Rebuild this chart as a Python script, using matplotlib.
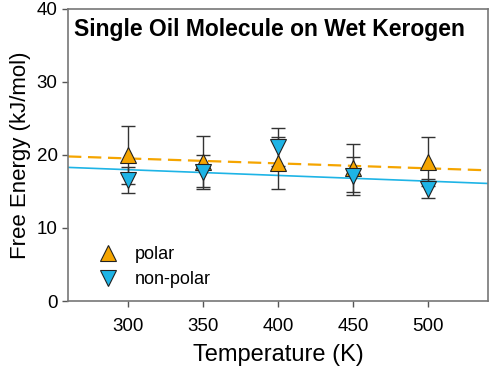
import matplotlib
matplotlib.use('Agg')
import matplotlib.pyplot as plt
from matplotlib.lines import Line2D

plt.rcParams['font.family'] = ['Liberation Sans', 'DejaVu Sans']

# --- Data ---
temps        = [300, 350, 400, 450, 500]
polar        = [20.0, 19.1, 18.9, 18.2, 19.1]
polar_err    = [4.0, 3.5, 3.6, 3.3, 3.4]
nonpolar     = [16.6, 17.7, 21.1, 17.1, 15.4]
nonpolar_err = [1.8, 2.3, 2.6, 2.6, 1.3]

fit_x        = [260, 540]
polar_fit    = [19.8, 17.9]
nonpolar_fit = [18.3, 16.1]

x_ticks = [300, 350, 400, 450, 500]
y_ticks = [0, 10, 20, 30, 40]

ORANGE = '#F5A500'
BLUE   = '#1EB4E6'

fig = plt.figure(figsize=(4.91, 3.73), dpi=100)
ax = fig.add_axes([0.1385, 0.193, 0.855, 0.783])

ax.plot(fit_x, polar_fit, color=ORANGE, lw=1.6, ls=(0, (6, 3)), zorder=1)
ax.plot(fit_x, nonpolar_fit, color=BLUE, lw=1.2, zorder=1)

ax.errorbar(temps, polar, yerr=polar_err, fmt='none', ecolor='#333333',
            elinewidth=1.0, capsize=5, capthick=1.0, zorder=2)
ax.errorbar(temps, nonpolar, yerr=nonpolar_err, fmt='none', ecolor='#333333',
            elinewidth=1.0, capsize=5, capthick=1.0, zorder=2)
ax.plot(temps, polar, ls='none', marker='^', ms=11, mfc=ORANGE, mec='#222222',
        mew=0.8, zorder=3)
ax.plot(temps, nonpolar, ls='none', marker='v', ms=11, mfc=BLUE, mec='#222222',
        mew=0.8, zorder=3)

ax.set_xlim(260, 540)
ax.set_ylim(0, 40)
ax.set_xticks(x_ticks)
ax.set_yticks(y_ticks)
ax.tick_params(axis='both', labelsize=13.5, color='#555555', length=4, width=1)
ax.tick_params(axis='x', pad=8)
for spine in ax.spines.values():
    spine.set_edgecolor('#777777')
    spine.set_linewidth(1.2)

ax.set_xlabel('Temperature (K)', fontsize=17, labelpad=7)
ax.set_ylabel('Free Energy (kJ/mol)', fontsize=16, labelpad=4)

ax.text(0.015, 0.93, 'Single Oil Molecule on Wet Kerogen', transform=ax.transAxes,
        fontsize=16.5, fontweight='bold', va='center', ha='left')

handles = [
    Line2D([], [], ls='none', marker='^', ms=11, mfc=ORANGE, mec='#222222', mew=0.8, label='polar'),
    Line2D([], [], ls='none', marker='v', ms=11, mfc=BLUE, mec='#222222', mew=0.8, label='non-polar'),
]
ax.legend(handles=handles, loc='lower left', bbox_to_anchor=(0.035, 0.02), frameon=False,
          fontsize=13, handletextpad=0.5, labelspacing=0.45, borderaxespad=0)

fig.savefig('out.png', dpi=100)
